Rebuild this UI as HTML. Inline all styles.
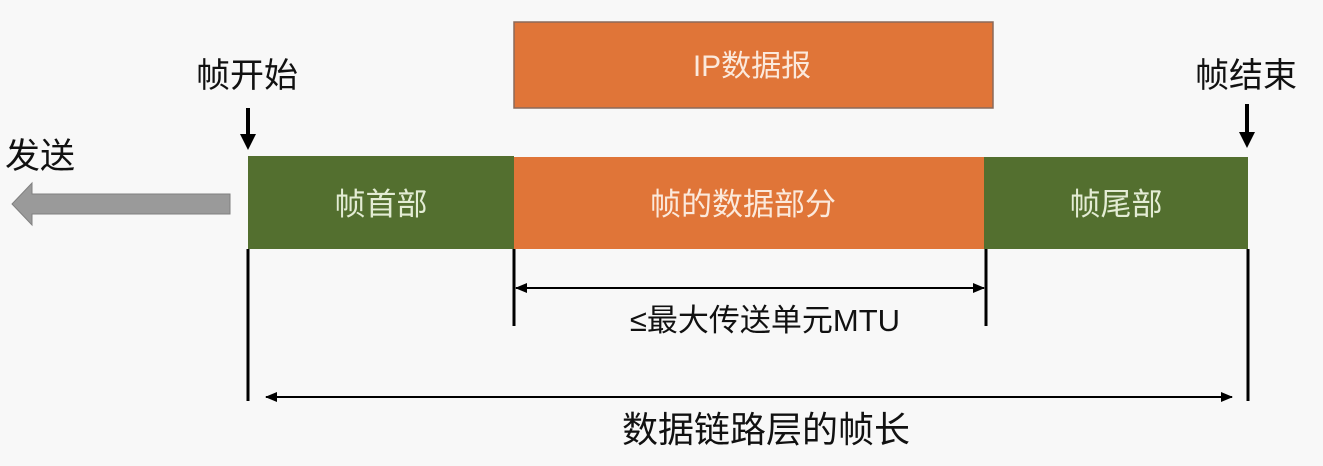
<!DOCTYPE html>
<html><head><meta charset="utf-8"><style>
html,body{margin:0;padding:0;background:#f8f8f8;}
svg{display:block;}
text{font-family:"Liberation Sans","Noto Sans CJK SC",sans-serif;}
</style></head><body>
<svg width="1323" height="466" viewBox="0 0 1323 466" xmlns="http://www.w3.org/2000/svg">
<defs>
<marker id="ah" markerWidth="12" markerHeight="10" refX="11" refY="5" orient="auto-start-reverse" markerUnits="userSpaceOnUse">
<path d="M0,0 L12,5 L0,10 z" fill="#000"/></marker>
</defs>
<rect x="0" y="0" width="1323" height="466" fill="#f8f8f8"/>
<rect x="514" y="22" width="479" height="86" fill="#e07538" stroke="#8a6a5a" stroke-width="1.5"/>
<text x="752" y="76" font-size="30" fill="#fbe9dc" text-anchor="middle">IP数据报</text>
<rect x="248" y="156" width="266" height="93" fill="#536f2f"/>
<rect x="514" y="157" width="470" height="92" fill="#e07538"/>
<rect x="984" y="157" width="264" height="92" fill="#536f2f"/>
<text x="381" y="215" font-size="31" fill="#e3ecd4" text-anchor="middle">帧首部</text>
<text x="743" y="215" font-size="31" fill="#fbe9dc" text-anchor="middle">帧的数据部分</text>
<text x="1116" y="215" font-size="31" fill="#e3ecd4" text-anchor="middle">帧尾部</text>
<text x="247" y="87" font-size="34" fill="#111" text-anchor="middle">帧开始</text>
<text x="1246" y="87" font-size="34" fill="#111" text-anchor="middle">帧结束</text>
<text x="5" y="168" font-size="35" fill="#111">发送</text>
<line x1="248" y1="108" x2="248" y2="136" stroke="#000" stroke-width="4"/>
<path d="M240,134 L256,134 L248,150 z" fill="#000"/>
<line x1="1247" y1="104" x2="1247" y2="134" stroke="#000" stroke-width="4"/>
<path d="M1239,132 L1255,132 L1247,148 z" fill="#000"/>
<path d="M230,194 L32,194 L32,183 L12,204 L32,225 L32,214 L230,214 z" fill="#9a9a9a" stroke="#808080" stroke-width="1"/>
<line x1="248" y1="249" x2="248" y2="401" stroke="#000" stroke-width="3"/>
<line x1="1248" y1="249" x2="1248" y2="401" stroke="#000" stroke-width="3"/>
<line x1="514" y1="249" x2="514" y2="326" stroke="#000" stroke-width="3"/>
<line x1="986" y1="249" x2="986" y2="326" stroke="#000" stroke-width="3"/>
<line x1="516" y1="288" x2="984" y2="288" stroke="#000" stroke-width="2" marker-start="url(#ah)" marker-end="url(#ah)"/>
<line x1="266" y1="397" x2="1232" y2="397" stroke="#000" stroke-width="2" marker-start="url(#ah)" marker-end="url(#ah)"/>
<text x="765" y="331" font-size="31" fill="#111" text-anchor="middle">≤最大传送单元MTU</text>
<text x="766" y="442" font-size="36" fill="#111" text-anchor="middle">数据链路层的帧长</text>
</svg>
</body></html>
